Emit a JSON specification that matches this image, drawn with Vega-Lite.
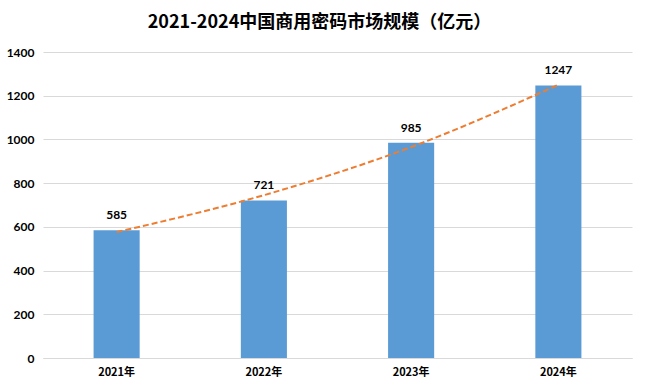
{
  "$schema": "https://vega.github.io/schema/vega-lite/v6.json",
  "width": 589,
  "height": 306,
  "autosize": {"type": "none"},
  "padding": {"left": 43, "top": 52, "right": 13, "bottom": 33},
  "background": "white",
  "title": {
    "text": "2021-2024中国商用密码市场规模（亿元）",
    "font": "Noto Sans CJK SC",
    "fontSize": 18,
    "fontWeight": "bold",
    "color": "#000000",
    "frame": "group",
    "anchor": "middle",
    "dx": -18,
    "offset": 14
  },
  "data": {
    "values": [
      {"year": "2021年", "value": 585, "trend": 576},
      {"year": "2022年", "value": 721, "trend": 745},
      {"year": "2023年", "value": 985, "trend": 965},
      {"year": "2024年", "value": 1247, "trend": 1250}
    ]
  },
  "encoding": {
    "x": {
      "field": "year",
      "type": "nominal",
      "sort": null,
      "scale": {"paddingInner": 0.687, "paddingOuter": 0.3435},
      "axis": {
        "title": null,
        "labelAngle": 0,
        "ticks": false,
        "domainColor": "#d9d9d9",
        "labelFont": "Noto Sans CJK SC",
        "labelFontSize": 11,
        "labelFontWeight": "bold",
        "labelColor": "#000000",
        "labelPadding": 8
      }
    }
  },
  "layer": [
    {
      "mark": {"type": "bar", "color": "#5B9BD5"},
      "encoding": {
        "y": {
          "field": "value",
          "type": "quantitative",
          "scale": {"domain": [0, 1400], "nice": false},
          "axis": {
            "title": null,
            "values": [0, 200, 400, 600, 800, 1000, 1200, 1400],
            "format": "d",
            "ticks": false,
            "domain": false,
            "gridColor": "#d9d9d9",
            "labelFont": "Lato",
            "labelFontSize": 12,
            "labelFontWeight": "bold",
            "labelColor": "#000000",
            "labelPadding": 9
          }
        }
      }
    },
    {
      "mark": {"type": "text", "baseline": "bottom", "dy": -8, "font": "Lato", "fontSize": 12, "fontWeight": "bold", "color": "#000000"},
      "encoding": {
        "y": {"field": "value", "type": "quantitative"},
        "text": {"field": "value", "type": "quantitative"}
      }
    },
    {
      "mark": {"type": "line", "color": "#ED7D31", "strokeWidth": 2, "strokeDash": [6, 3], "interpolate": "monotone"},
      "encoding": {
        "y": {"field": "trend", "type": "quantitative"}
      }
    }
  ],
  "config": {"view": {"stroke": null}}
}
